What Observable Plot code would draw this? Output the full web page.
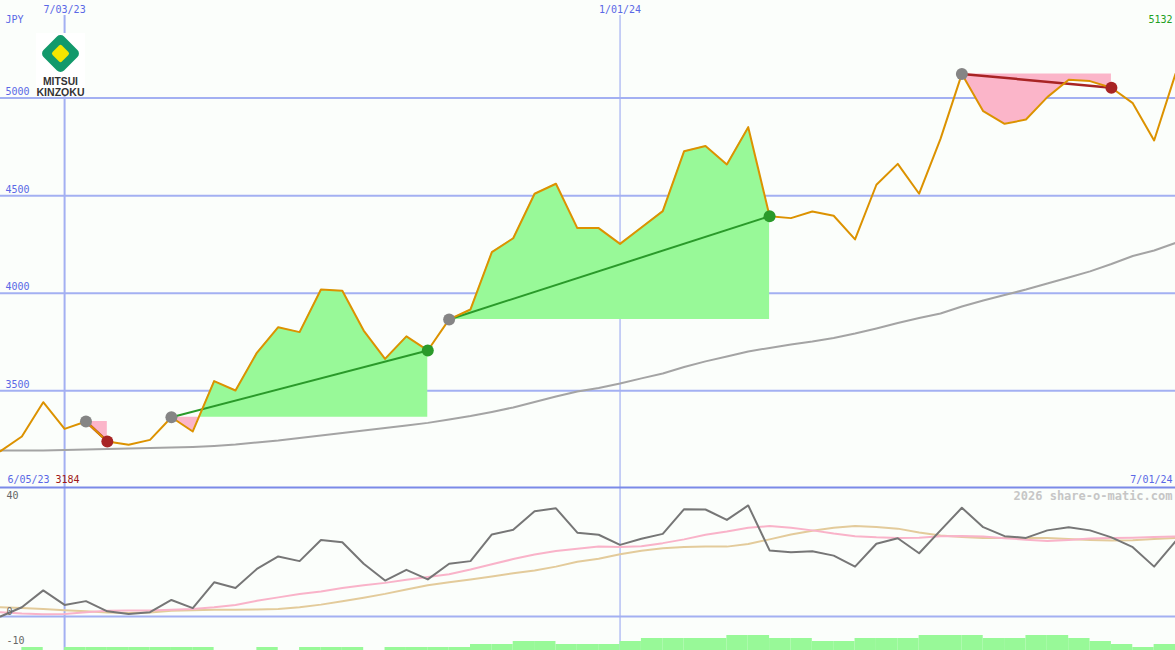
<!DOCTYPE html>
<html><head><meta charset="utf-8">
<script src="https://cdn.jsdelivr.net/npm/d3@7"></script>
<script src="https://cdn.jsdelivr.net/npm/@observablehq/plot@0.6"></script>
<style>
html,body{margin:0;padding:0;background:#fbfefb;}
#chart{position:relative;width:1175px;height:650px;background:#fbfefb;overflow:hidden;}
#chart svg{display:block;}
#logo{position:absolute;left:36px;top:33px;}
</style></head><body>
<div id="chart"></div>
<script>
// ---------- data ----------
const startWeek = "2023-06-12";
const endWeek = "2024-07-01";
const price = [3191,3266,3442,3305,3343,3241,3224,3249,3365,3292,
  3550,3502,3695,3826,3801,4019,4013,3809,3664,3779,
  3707,3866,3917,4211,4282,4510,4561,4334,4334,4253,
  4337,4421,4728,4755,4660,4851,4395,4385,4419,4397,
  4276,4556,4663,4510,4791,5124,4933,4868,4890,5005,
  5094,5087,5053,4974,4783,5124];
const movingAvg = [3195,3195,3195,3197,3200,3202,3205,3207,3210,3213,
  3218,3225,3236,3246,3259,3271,3284,3297,3310,3323,
  3336,3353,3371,3392,3415,3443,3471,3497,3515,3538,
  3564,3589,3622,3651,3676,3702,3720,3738,3753,3771,
  3794,3820,3848,3873,3896,3932,3963,3991,4019,4050,
  4081,4112,4150,4191,4219,4258];
const osc = [0,3.2,9.0,4.0,5.3,1.8,0.9,1.5,5.7,2.9,
  11.8,9.8,16.4,20.7,19.1,26.4,25.6,18.2,12.4,16.1,
  12.8,18.2,19.1,28.3,29.9,36.3,37.3,28.9,28.2,24.7,
  26.8,28.5,37.0,36.9,33.3,38.3,22.8,22.2,22.5,21.0,
  17.2,25.1,27.0,21.8,29.7,37.5,30.8,27.7,27.1,29.7,
  30.8,29.7,27.3,23.9,17.2,25.9];
const oscFast = [1.5,1.0,0.8,0.9,1.5,2.0,2.1,2.1,2.3,2.6,
  3.2,4.0,5.4,6.6,7.8,8.6,9.8,10.8,11.6,12.7,
  13.6,14.6,16.2,18.0,19.8,21.4,22.6,23.4,24.1,24.0,
  24.2,25.3,26.6,28.2,29.3,30.6,31.2,30.6,29.7,28.6,
  27.7,27.3,27.1,27.2,27.7,27.8,27.6,27.0,26.5,26.0,
  26.4,26.9,27.1,27.2,27.4,27.6];
const oscSlow = [3.2,2.9,2.6,2.2,1.8,1.4,1.2,1.4,2.0,2.2,
  2.3,2.3,2.4,2.6,3.2,4.1,5.3,6.5,7.8,9.3,
  10.8,11.8,12.8,13.8,14.9,15.9,17.2,18.9,19.9,21.5,
  22.7,23.5,24.0,24.1,24.1,25.0,26.6,28.3,29.6,30.6,
  31.2,30.9,30.3,29.0,27.9,27.4,27.1,27.1,27.1,27.1,
  26.7,26.4,26.2,26.3,26.7,27.1];
const strength = [0,1,0,1,1,1,1,1,1,1,
  0,0,1,0,1,1,1,0,1,1,
  1,1,2,2,3,3,2,2,2,3,
  4,4,4,4,5,5,4,4,3,3,
  4,4,4,5,5,5,4,4,5,5,
  4,3,2,1,2];
const priceTicks = [3500, 4000, 4500, 5000];
const oscTicks = [40, 0, -10];
const dateGrid = ["2023-07-03", "2024-01-01"];
const tradeEntry = ["2023-07-10", "2023-08-07", "2023-11-06", "2024-04-22"];
const tradeExit  = ["2023-07-17", "2023-10-30", "2024-02-19", "2024-06-10"];
const currency = "JPY";
const rangeLabels = ["6/05/23", "7/01/24"];
const periodHigh = 5132, periodLow = 3184;
const watermark = "2026 share-o-matic.com";

// ---------- build ----------
const W = 1175, H1 = 486, H2 = 164;
const mono = "'DejaVu Sans Mono', monospace";
const blue = "#5a68e6", grid = "#a3b0f2";
const dates = d3.utcMonday.range(new Date(startWeek), d3.utcDay.offset(new Date(endWeek), 1));
const rows = dates.map((d, i) => ({date: d, price: price[i], ma: movingAvg[i], osc: osc[i], fast: oscFast[i], slow: oscSlow[i]}));
const gridDates = dateGrid.map(s => new Date(s));
const fmt = d3.utcFormat("%-m/%d/%y");
const idx = s => dates.findIndex(d => +d === +new Date(s));

const trades = tradeEntry.map((s, t) => {
  const si = idx(s), ei = idx(tradeExit[t]);
  return {id: t, si, ei, start: dates[si], end: dates[ei], entry: price[si], exit: price[ei], win: price[ei] > price[si]};
});
const fillPts = [];
for (const tr of trades) {
  const e = tr.entry;
  for (let k = tr.si; k <= tr.ei; k++) {
    fillPts.push({id: tr.id, date: dates[k], p: price[k], e});
    if (k < tr.ei) {
      const a = price[k] - e, b = price[k + 1] - e;
      if (a * b < 0) {
        const f = (e - price[k]) / (price[k + 1] - price[k]);
        fillPts.push({id: tr.id, date: new Date(+dates[k] + f * (dates[k + 1] - dates[k])), p: e, e});
      }
    }
  }
}

const xScale = {type: "utc", domain: [dates[0], dates[dates.length - 1]], axis: null};
const style = {background: "transparent", fontFamily: mono, fontSize: "10px", overflow: "visible"};

const main = Plot.plot({
  width: W, height: H1, margin: 0,
  x: xScale,
  y: {domain: [3010, 5500], axis: null},
  style,
  marks: [
    Plot.ruleY(priceTicks, {stroke: grid, strokeWidth: 2}),
    Plot.ruleX([gridDates[0]], {stroke: grid, strokeWidth: 2, insetTop: 15}),
    Plot.ruleX([gridDates[1]], {stroke: grid, strokeWidth: 1.2, insetTop: 15}),
    Plot.areaY(fillPts, {x: "date", y1: d => d.e, y2: d => Math.max(d.p, d.e), z: "id", fill: "#98f998", curve: "linear"}),
    Plot.areaY(fillPts, {x: "date", y1: d => d.e, y2: d => Math.min(d.p, d.e), z: "id", fill: "#fbb5c9", curve: "linear"}),
    Plot.lineY(rows, {x: "date", y: "ma", stroke: "#a4a4a4", strokeWidth: 2}),
    Plot.link(trades.filter(d => d.win), {x1: "start", y1: "entry", x2: "end", y2: "exit", stroke: "#2a9a2a", strokeWidth: 2}),
    Plot.link(trades.filter(d => !d.win), {x1: "start", y1: "entry", x2: "end", y2: "exit", stroke: "#a82424", strokeWidth: 2.5}),
    Plot.lineY(rows, {x: "date", y: "price", stroke: "#dc9200", strokeWidth: 2}),
    Plot.dot(trades, {x: "start", y: "entry", r: 6, fill: "#858585"}),
    Plot.dot(trades.filter(d => d.win), {x: "end", y: "exit", r: 6, fill: "#2a9a2a"}),
    Plot.dot(trades.filter(d => !d.win), {x: "end", y: "exit", r: 6, fill: "#a82424"}),
    Plot.text(priceTicks, {y: d => d, text: d => String(d), frameAnchor: "left", textAnchor: "start", lineAnchor: "middle", dx: 5, dy: -6, fill: blue}),
    Plot.text(gridDates, {x: d => d, text: d => fmt(d), frameAnchor: "top", textAnchor: "middle", lineAnchor: "middle", dy: 9, fill: blue}),
    Plot.text([currency], {text: d => d, frameAnchor: "top-left", textAnchor: "start", lineAnchor: "middle", dx: 5, dy: 19, fill: blue}),
    Plot.text([periodHigh], {text: d => String(d), frameAnchor: "top-right", textAnchor: "end", lineAnchor: "middle", dx: -3, dy: 19, fill: "#22a022"}),
    Plot.text([rangeLabels[0]], {text: d => d, frameAnchor: "bottom-left", textAnchor: "start", lineAnchor: "middle", dx: 7, dy: -7, fill: blue}),
    Plot.text([periodLow], {text: d => String(d), frameAnchor: "bottom-left", textAnchor: "start", lineAnchor: "middle", dx: 55, dy: -7, fill: "#a01818"}),
    Plot.text([rangeLabels[1]], {text: d => d, frameAnchor: "bottom-right", textAnchor: "end", lineAnchor: "middle", dx: -3, dy: -7, fill: blue})
  ]
});

const oscTop = 44.83, oscBottom = -11.72, barUnit = 3 / 2.9;
const bars = strength.map((v, i) => ({x1: dates[i], x2: dates[i + 1], v}));
const ind = Plot.plot({
  width: W, height: H2, margin: 0,
  x: xScale,
  y: {domain: [oscBottom, oscTop], axis: null},
  style,
  marks: [
    Plot.ruleY([0], {stroke: grid, strokeWidth: 2}),
    Plot.ruleX([gridDates[0]], {stroke: grid, strokeWidth: 2}),
    Plot.ruleX([gridDates[1]], {stroke: grid, strokeWidth: 1.2}),
    Plot.rectY(bars.filter(d => d.v > 0), {x1: "x1", x2: "x2", y1: oscBottom, y2: d => oscBottom + d.v * barUnit, fill: "#98f998"}),
    Plot.lineY(rows, {x: "date", y: "slow", stroke: "#e3cb9b", strokeWidth: 2}),
    Plot.lineY(rows, {x: "date", y: "fast", stroke: "#f9b3c9", strokeWidth: 2}),
    Plot.lineY(rows, {x: "date", y: "osc", stroke: "#767676", strokeWidth: 2}),
    Plot.ruleY([oscTop], {stroke: "#7b8ae8", strokeWidth: 2, dy: 1}),
    Plot.text(oscTicks, {y: d => d, text: d => String(d), frameAnchor: "left", textAnchor: "start", lineAnchor: "middle", dx: 6, dy: -5, fill: "#666666"}),
    Plot.text([watermark], {text: d => d, frameAnchor: "top-right", textAnchor: "end", lineAnchor: "middle", dx: -3, dy: 10, fill: "#c6c6c6", fontWeight: "bold", fontSize: 12})
  ]
});

const chart = document.getElementById("chart");
chart.appendChild(main);
chart.appendChild(ind);

// logo (decoration)
const logo = document.createElementNS("http://www.w3.org/2000/svg", "svg");
logo.setAttribute("id", "logo");
logo.setAttribute("width", "49");
logo.setAttribute("height", "64");
logo.innerHTML = `
  <rect x="0" y="0" width="49" height="63" fill="#ffffff"/>
  <g transform="translate(24.5,20.5) rotate(45)">
    <rect x="-14.5" y="-14.5" width="29" height="29" rx="5" fill="#12996b"/>
    <rect x="-6.6" y="-6.6" width="13.2" height="13.2" rx="2" fill="#f5e600"/>
  </g>
  <text x="24.5" y="52" text-anchor="middle" font-family="'Liberation Sans', Arial, sans-serif" font-weight="bold" font-size="10.5" fill="#333" textLength="35" lengthAdjust="spacingAndGlyphs">MITSUI</text>
  <text x="24.5" y="63" text-anchor="middle" font-family="'Liberation Sans', Arial, sans-serif" font-weight="bold" font-size="10.5" fill="#333" textLength="48" lengthAdjust="spacingAndGlyphs">KINZOKU</text>`;
chart.appendChild(logo);
</script>
</body></html>
